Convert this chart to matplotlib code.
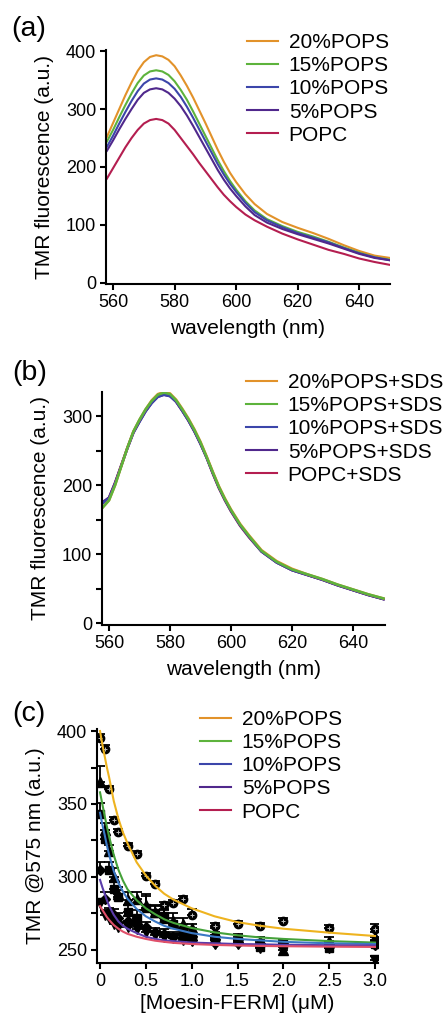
import matplotlib
matplotlib.use("Agg")
import matplotlib.pyplot as plt
from matplotlib.lines import Line2D

plt.rcParams["font.family"] = ["Liberation Sans", "DejaVu Sans"]

# ---- panel (a): spectra with lipid vesicles
wl = [558, 560, 562, 564, 566, 568, 570, 572, 574, 576, 578, 580, 582, 584, 586, 588,
      590, 592, 594, 596, 598, 600, 603, 606, 610, 615, 620, 625, 630, 635, 640, 645, 650]
a_pops20 = [252, 276, 300, 324, 346, 366, 381, 390, 393, 391, 385, 374, 358, 340, 320, 298,
            276, 253, 230, 209, 190, 174, 153, 136, 119, 105, 95, 86, 76, 65, 55, 47, 43]
a_pops15 = [244, 264, 286, 307, 327, 345, 358, 365, 367, 365, 359, 348, 333, 316, 296, 275,
            254, 233, 212, 193, 176, 161, 141, 125, 110, 98, 88, 80, 71, 61, 52, 44, 40]
a_pops10 = [235, 254, 275, 295, 314, 331, 344, 351, 353, 351, 345, 335, 321, 304, 285, 265,
            245, 225, 205, 187, 171, 157, 138, 122, 108, 96, 86, 78, 70, 60, 51, 44, 39]
a_pops5 = [228, 246, 265, 283, 300, 316, 328, 334, 336, 334, 328, 318, 305, 289, 271, 252,
           233, 214, 195, 178, 163, 150, 132, 117, 104, 93, 84, 76, 68, 59, 50, 43, 39]
a_popc = [180, 198, 216, 234, 250, 264, 275, 281, 283, 281, 275, 264, 250, 236, 222, 207,
          193, 179, 165, 152, 141, 131, 118, 108, 97, 85, 75, 66, 57, 50, 42, 36, 31]

# ---- panel (b): same with SDS
b_pops20 = [168, 178, 200, 227, 254, 278, 295, 310, 323, 332, 335, 333, 324, 311, 297, 281,
            263, 242, 220, 199, 181, 165, 144, 127, 106, 90, 79, 71, 64, 56, 49, 42, 36]
b_pops15 = [168, 178, 200, 227, 254, 278, 295, 310, 322, 331, 334, 332, 323, 310, 296, 280,
            262, 241, 219, 198, 180, 164, 143, 126, 105, 89, 78, 71, 64, 56, 49, 42, 36]
b_pops10 = [174, 181, 203, 228, 253, 276, 292, 307, 319, 328, 331, 329, 321, 308, 294, 278,
            260, 240, 218, 197, 179, 163, 142, 125, 104, 88, 77, 70, 63, 55, 48, 41, 35]
b_pops5 = [176, 182, 203, 228, 253, 276, 292, 307, 319, 328, 331, 329, 321, 308, 294, 278,
           260, 240, 218, 197, 179, 163, 142, 125, 104, 88, 77, 70, 63, 55, 48, 41, 35]
b_popc = [174, 182, 204, 229, 254, 277, 293, 308, 320, 329, 332, 330, 321, 308, 294, 278,
          260, 240, 217, 196, 178, 162, 141, 124, 104, 88, 77, 70, 63, 55, 48, 41, 35]

# ---- panel (c): titration at 575 nm
conc = [0, 0.05, 0.1, 0.15, 0.2, 0.3, 0.4, 0.5, 0.6, 0.7, 0.8, 0.9, 1.0, 1.25, 1.5, 1.75, 2.0, 2.5, 3.0]
c_pops20 = [395, 387.5, 360.5, 339, 331, 321.5, 316, 300.5, 295, 281, 282, 285, 274, 266.5, 268, 266.5, 270, 265, 264]
c_pops15 = [365, 332, 318, 300, 288, 284, 285, 281, 276, 272, 270, 268, 265, 262, 258, 256, 250, 256, 259]
c_pops10 = [343, 326, 305, 292, 286, 276, 272, 279, 275, 273, 268, 262, 258, 257, 256, 252, 254, 251, 254]
c_pops5 = [305, 285, 276, 274, 272, 270, 268, 266, 262, 261, 259, 258, 257, 255, 255, 254, 253, 252, 253]
c_popc = [282, 274, 272, 268, 266, 266, 264, 262, 260, 259, 258, 257, 256, 254, 254, 251, 252, 251, 243]
e_pops20 = [3, 3, 2, 2, 2, 2, 2, 2, 2, 2, 2, 2, 4, 2, 2, 2, 2, 2, 4]
e_pops15 = [11, 5, 4, 6, 5, 6, 5, 7, 5, 6, 5, 4, 3, 3, 3, 3, 3, 3, 3]
e_pops10 = [8, 6, 5, 5, 5, 5, 5, 8, 5, 4, 4, 3, 3, 3, 3, 3, 3, 3, 3]
e_pops5 = [5, 5, 3, 4, 3, 3, 3, 3, 3, 3, 3, 3, 3, 3, 3, 3, 3, 3, 3]
e_popc = [3, 3, 3, 3, 3, 3, 3, 3, 3, 3, 3, 3, 3, 3, 3, 3, 3, 3, 3]

# fitted curves
fx = [0, 0.025, 0.05, 0.075, 0.1, 0.15, 0.2, 0.25, 0.3, 0.4, 0.5, 0.6, 0.7, 0.8, 1.0,
      1.25, 1.5, 1.75, 2.0, 2.5, 3.0]
f_pops20 = [400, 391, 383, 375, 368, 352, 340, 330.5, 323, 310, 301, 294, 288.5, 284.5, 278.5,
            273, 269, 266.5, 264.5, 261.8, 259.5]
f_pops15 = [358, 350, 342, 334.5, 327.5, 315, 305, 297.5, 291.5, 284, 278.5, 274.5, 271, 268.5, 265,
            262, 260, 258.5, 257.5, 256, 255]
f_pops10 = [344, 336, 329, 321.5, 315, 304, 296, 290, 285, 278, 273, 269.5, 266.5, 264.5, 261.5,
            259, 257.5, 256.5, 255.5, 254.5, 254]
f_pops5 = [298, 293, 288.5, 284, 280, 274, 269.5, 266.5, 264.5, 261.5, 259, 257.5, 256.5, 256, 255,
           254.5, 254, 253.8, 253.5, 253.2, 253]
f_popc = [280, 277.5, 275, 272.5, 270.5, 267, 264.5, 262.5, 261, 259, 257.5, 256.3, 255.5, 254.8, 254,
          253.4, 253, 252.7, 252.5, 252.2, 252]

labels = ["20%POPS", "15%POPS", "10%POPS", "5%POPS", "POPC"]
cols = ["#E2922A", "#5DB33C", "#3C46AA", "#50288C", "#B41E50"]
fitcols = ["#EEB31F", "#45A23A", "#3A78C4", "#5A3CAA", "#E0506A"]

fig = plt.figure(figsize=(4.48, 10.15), dpi=100)
W, H = 448.0, 1015.0


def make_ax(l, r, t, b):
    ax = fig.add_axes([l / W, 1 - b / H, (r - l) / W, (b - t) / H])
    for s in ["top", "right"]:
        ax.spines[s].set_visible(False)
    for s in ["left", "bottom"]:
        ax.spines[s].set_linewidth(1.5)
    ax.tick_params(width=1.5, length=4, labelsize=13, pad=3)
    return ax


def leg(ax, handles, labs, x, y):
    ax.legend(handles, labs, loc="upper left", bbox_to_anchor=(x / W, 1 - y / H),
              bbox_transform=fig.transFigure, frameon=False, fontsize=15,
              handlelength=1.5, handletextpad=0.5, labelspacing=0.2,
              borderpad=0, borderaxespad=0)


# (a)
ax1 = make_ax(106, 390, 50, 284)
for ys, c, lab in zip([a_pops20, a_pops15, a_pops10, a_pops5, a_popc], cols, labels):
    ax1.plot(wl, ys, color=c, lw=1.5, label=lab)
ax1.set_xlim(557.7, 650)
ax1.set_ylim(-2, 402)
ax1.set_xticks([560, 580, 600, 620, 640])
ax1.set_yticks([0, 100, 200, 300, 400])
ax1.set_xlabel("wavelength (nm)", fontsize=15, labelpad=6)
ax1.set_ylabel("TMR fluorescence (a.u.)", fontsize=15, labelpad=9)
h, l = ax1.get_legend_handles_labels()
leg(ax1, h, l, 247, 33)

# (b)
ax2 = make_ax(102, 385, 392, 625)
sds = [b_popc, b_pops5, b_pops10, b_pops20, b_pops15]
sdscol = [cols[4], cols[3], cols[2], cols[0], cols[1]]
for ys, c in zip(sds, sdscol):
    ax2.plot(wl, ys, color=c, lw=1.8)
ax2.set_xlim(557.7, 650.5)
ax2.set_ylim(-2.5, 335)
ax2.set_xticks([560, 580, 600, 620, 640])
ax2.set_yticks([0, 50, 100, 150, 200, 250, 300])
ax2.set_yticklabels(["0", "", "100", "", "200", "", "300"])
ax2.set_xlabel("wavelength (nm)", fontsize=15, labelpad=6)
ax2.set_ylabel("TMR fluorescence (a.u.)", fontsize=15, labelpad=9)
hb = [Line2D([0], [0], color=c, lw=1.5) for c in cols]
leg(ax2, hb, [s + "+SDS" for s in labels], 246, 373)

# (c)
ax3 = make_ax(97, 378, 729, 963)
for ys, c in zip([f_pops20, f_pops15, f_pops10, f_pops5, f_popc], fitcols):
    ax3.plot(fx, ys, color=c, lw=1.5, zorder=3)
marks = ["o", "^", "s", "D", "v"]
sizes = [6, 6.5, 6, 5.5, 6.5]
for ys, es, m, ms in zip([c_pops20, c_pops15, c_pops10, c_pops5, c_popc],
                         [e_pops20, e_pops15, e_pops10, e_pops5, e_popc], marks, sizes):
    ax3.errorbar(conc, ys, yerr=[[0] * len(es), es], fmt=m, color="black", ms=ms,
                 elinewidth=1.3, capsize=3.5, capthick=1.3, zorder=2)
ax3.plot(conc, c_pops20, "+", color="#bbbbbb", ms=3.5, mew=0.7, zorder=2.5)
ax3.set_xlim(-0.033, 3.033)
ax3.set_ylim(241, 401.4)
ax3.set_xticks([0, 0.5, 1.0, 1.5, 2.0, 2.5, 3.0])
ax3.set_xticklabels(["0", "0.5", "1.0", "1.5", "2.0", "2.5", "3.0"])
ax3.set_yticks([250, 275, 300, 325, 350, 375, 400])
ax3.set_yticklabels(["250", "", "300", "", "350", "", "400"])
ax3.set_xlabel("[Moesin-FERM] (\u03bcM)", fontsize=15, labelpad=3)
ax3.set_ylabel("TMR @575 nm (a.u.)", fontsize=15, labelpad=9)
hc = [Line2D([0], [0], color=c, lw=1.5) for c in cols]
leg(ax3, hc, labels, 200, 710)

fig.text(29 / W, 1 - 29.5 / H, "(a)", fontsize=20.5, ha="center", va="center")
fig.text(30 / W, 1 - 373 / H, "(b)", fontsize=20.5, ha="center", va="center")
fig.text(29 / W, 1 - 714 / H, "(c)", fontsize=20.5, ha="center", va="center")

fig.savefig("out.png", dpi=100)
